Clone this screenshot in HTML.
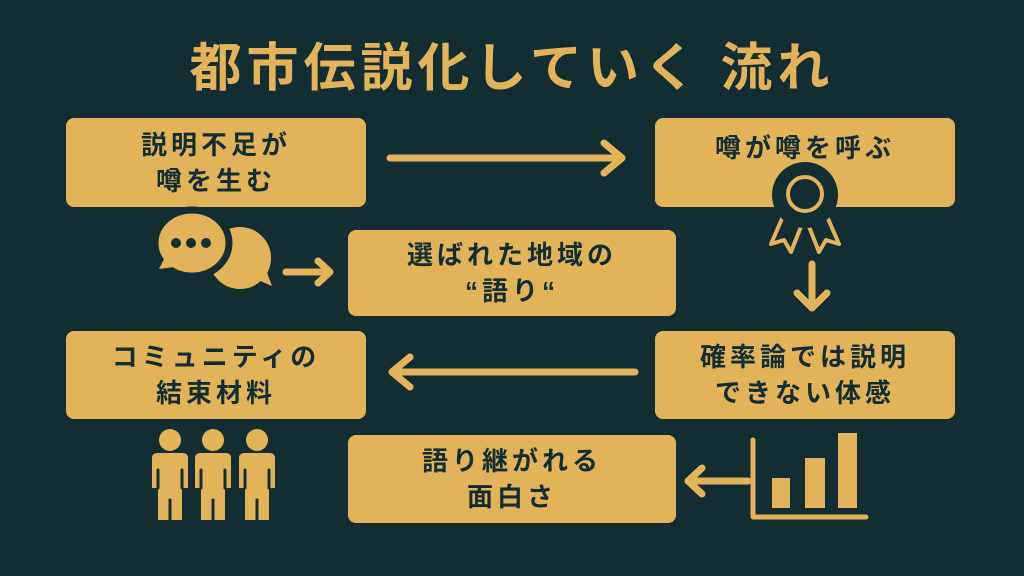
<!DOCTYPE html>
<html><head><meta charset="utf-8"><style>
body{margin:0;width:1024px;height:576px;background:#132e33;overflow:hidden;position:relative;font-family:"Liberation Sans","Noto Sans CJK JP",sans-serif}
.t{position:absolute;left:0;width:1024px;top:26px;text-align:center;color:#e3b35a;font-size:52px;font-weight:bold;letter-spacing:5px}
.b{position:absolute;background:#e3b35a;border-radius:8px;color:#132e33;font-weight:bold;font-size:26px;letter-spacing:4px;line-height:36px;display:flex;align-items:center;justify-content:center;text-align:center}
svg{position:absolute;left:0;top:0}
</style></head><body>
<div class="t">都市伝説化していく 流れ</div>
<div class="b" style="left:66px;top:118px;width:300px;height:89px">説明不足が<br>噂を生む</div>
<div class="b" style="left:655px;top:118px;width:300px;height:89px;align-items:flex-start;padding-top:12px;box-sizing:border-box">噂が噂を呼ぶ</div>
<div class="b" style="left:348px;top:230px;width:328px;height:86px">選ばれた地域の<br>“語り“</div>
<div class="b" style="left:66px;top:331px;width:300px;height:88px">コミュニティの<br>結束材料</div>
<div class="b" style="left:655px;top:331px;width:300px;height:88px">確率論では説明<br>できない体感</div>
<div class="b" style="left:348px;top:435px;width:328px;height:88px">語り継がれる<br>面白さ</div>
<svg width="1024" height="576" fill="none" stroke="#e3b35a" stroke-width="7" stroke-linecap="round" stroke-linejoin="round">
<path d="M390 158H622M604 143L622 158L604 173"/>
<path d="M812 264V308M797 293L812 308L827 293"/>
<path d="M635 372H392M410 357L392 372L410 387"/>
<path d="M286 272H330M318 261L330 272L318 283"/>
<path d="M748 481H688M702 468L688 481L702 494"/>
<g fill="#e3b35a" stroke="none">
<circle cx="240" cy="258" r="34" stroke="#132e33" stroke-width="6"/>
<path d="M258 280L272 286L266 270Z"/>
<ellipse cx="192" cy="243" rx="37" ry="33" stroke="#132e33" stroke-width="7"/>
<path d="M166 255L159 269L182 266Z"/>
</g>
<g fill="#132e33" stroke="none"><circle cx="176" cy="243" r="5"/><circle cx="191" cy="243" r="5"/><circle cx="206" cy="243" r="5"/></g>
<path d="M784 214L771 244L784 240L791 252L802 224M826 214L839 244L826 240L819 252L808 224" stroke-width="4"/>
<circle cx="805" cy="195" r="33" fill="#132e33" stroke="none"/>
<circle cx="805" cy="194" r="17" stroke-width="4"/>
<path d="M753 440V517H866" stroke-width="5"/>
<g fill="#e3b35a" stroke="none"><rect x="772" y="478" width="18" height="30"/><rect x="805" y="458" width="20" height="50"/><rect x="838" y="433" width="19" height="75"/></g>
<g fill="#e3b35a" stroke="none">
<circle cx="170" cy="440" r="11"/><path d="M152 458Q152 453 158 453H182Q188 453 188 458V488H182V520H158V488H152Z"/>
<circle cx="213" cy="440" r="11"/><path d="M195 458Q195 453 201 453H225Q231 453 231 458V488H225V520H201V488H195Z"/>
<circle cx="257" cy="440" r="11"/><path d="M239 458Q239 453 245 453H269Q275 453 275 458V488H269V520H245V488H239Z"/>
</g>
<g stroke="#132e33" stroke-width="3"><path d="M158 470V488M182 470V488M201 470V488M225 470V488M245 470V488M269 470V488M170 500V520M213 500V520M257 500V520"/></g>
</svg>
</body></html>
